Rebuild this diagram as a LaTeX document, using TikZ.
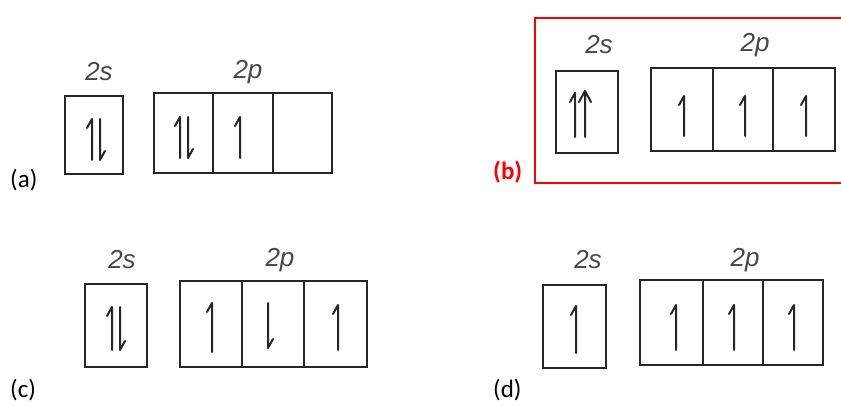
\documentclass[tikz,border=0pt]{standalone}
\usepackage{fontspec}
\newfontfamily\labfont{Carlito}
\newfontfamily\shfont{Liberation Sans}
\usetikzlibrary{arrows.meta}
\tikzset{
  orb/.style={draw=black!85, line width=2.2pt},
  el/.style={draw=black!85, line width=2pt, line cap=round, line join=round},
  lab/.style={font=\labfont\fontsize{25}{25}\selectfont, text=black},
  shell/.style={font=\shfont\itshape\fontsize{26}{26}\selectfont, text=black!72},
}
\newcommand{\eup}[3]{\draw[el] (#1,#2) -- (#1,#3) -- ++(-5,9);}
\newcommand{\edn}[3]{\draw[el] (#1,#2) -- (#1,#3) -- ++(5,-9);}
\begin{document}
\begin{tikzpicture}[x=1pt,y=-1pt]
\useasboundingbox (0,0) rectangle (841,406);
% ---------- (a)
\node[lab, anchor=west, inner sep=0] (la) at (10,180) {(a)};
\node[shell] (sa) at (99,72) {2s};
\node[shell] (pa) at (248,72) {2p};
\draw[orb] (65,96) rectangle (123,174);
\draw[orb] (154,93) rectangle (332,173);
\draw[orb] (213,93) -- (213,173) (273,93) -- (273,173);
\eup{92}{160}{119}\edn{100}{119}{160}
\eup{180}{158}{117}\edn{188}{117}{158}
\eup{240}{158}{117}
% ---------- (b)
\draw[red, line width=1.8pt] (535,18) rectangle (845,183);
\node[lab, anchor=west, inner sep=0, text=red, font=\labfont\bfseries\fontsize{25}{25}\selectfont] (lb) at (493,172) {(b)};
\node[shell] (sb) at (599,45) {2s};
\node[shell] (pb) at (755,45) {2p};
\draw[orb] (556,71) rectangle (618,153);
\draw[orb] (651,68) rectangle (835,151);
\draw[orb] (713,68) -- (713,151) (773,68) -- (773,151);
\eup{575}{137}{93}
\draw[el] (585,137) -- (585,91) (579,102) -- (585,91) -- (591,102);
\eup{684}{136}{96}\eup{745}{136}{96}\eup{806}{136}{96}
% ---------- (c)
\node[lab, anchor=west, inner sep=0] (lc) at (10,390) {(c)};
\node[shell] (sc) at (122,260) {2s};
\node[shell] (pc) at (280,260) {2p};
\draw[orb] (85,284) rectangle (147,367);
\draw[orb] (180,281) rectangle (367,367);
\draw[orb] (242,281) -- (242,367) (304,281) -- (304,367);
\eup{112}{350}{307}\edn{120}{307}{350}
\eup{212}{352}{303}
\edn{268}{303}{348}
\eup{338}{350}{305}
% ---------- (d)
\node[lab, anchor=west, inner sep=0] (ld) at (493,390) {(d)};
\node[shell] (sd) at (588,260) {2s};
\node[shell] (pd) at (745,260) {2p};
\draw[orb] (543,285) rectangle (606,368);
\draw[orb] (640,280) rectangle (823,365);
\draw[orb] (703,280) -- (703,365) (763,280) -- (763,365);
\eup{576}{353}{306}
\eup{676}{350}{305}\eup{734}{350}{305}\eup{794}{350}{305}
\end{tikzpicture}
\end{document}
